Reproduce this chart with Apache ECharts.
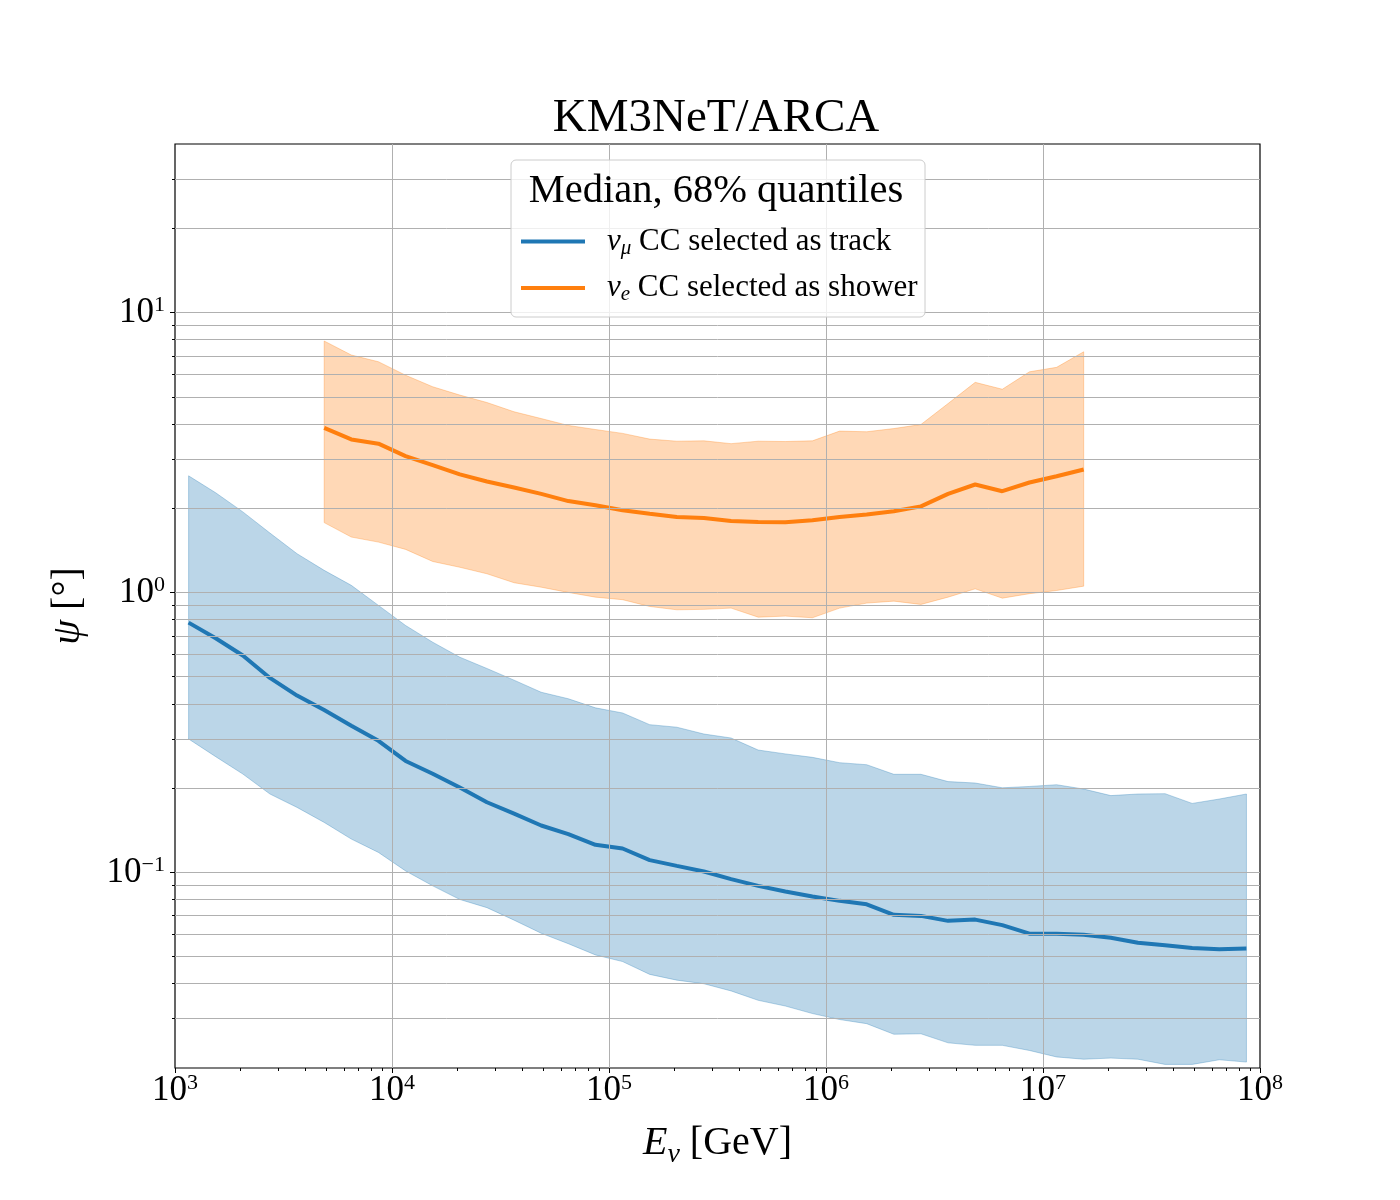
<!DOCTYPE html>
<html>
<head>
<meta charset="UTF-8">
<title>KM3NeT/ARCA</title>
<script type="text/javascript" src="https://cdn.jsdelivr.net/npm/echarts@6.0.0/dist/echarts.min.js"></script>
<style type="text/css">
	body { margin: 0; background: #fff; }
	#main { width: 1400px; height: 1200px; }
</style>
</head>
<body>
<div id="main"></div>
<script type="text/javascript">
	// bin centres, GeV
	var energy = [
		1155, 1540, 2054, 2738, 3652, 4870, 6494, 8660,
		11550, 15400, 20540, 27380, 36520, 48700, 64940, 86600,
		1.155e5, 1.54e5, 2.054e5, 2.738e5, 3.652e5, 4.87e5, 6.494e5, 8.66e5,
		1.155e6, 1.54e6, 2.054e6, 2.738e6, 3.652e6, 4.87e6, 6.494e6, 8.66e6,
		1.155e7, 1.54e7, 2.054e7, 2.738e7, 3.652e7, 4.87e7, 6.494e7, 8.66e7
	];

	// nu_mu CC selected as track (all 40 bins)
	var trackMedian = [0.78, 0.686, 0.595, 0.495, 0.428, 0.38, 0.334, 0.295, 0.25, 0.225,
		0.201, 0.178, 0.162, 0.147, 0.137, 0.1254, 0.1217, 0.1106, 0.1055, 0.1007,
		0.0946, 0.0895, 0.0854, 0.082, 0.0791, 0.0769, 0.0705, 0.0699, 0.0671, 0.0678,
		0.0648, 0.0604, 0.0604, 0.0598, 0.0584, 0.056, 0.0549, 0.0537, 0.0531, 0.0534];
	var trackUpper = [2.61, 2.27, 1.94, 1.63, 1.375, 1.199, 1.06, 0.899, 0.762, 0.664,
		0.587, 0.535, 0.486, 0.44, 0.417, 0.387, 0.371, 0.337, 0.33, 0.312,
		0.302, 0.2735, 0.265, 0.2575, 0.2465, 0.2424, 0.224, 0.224, 0.211, 0.2085,
		0.2005, 0.2027, 0.2056, 0.1984, 0.188, 0.1905, 0.191, 0.1763, 0.1828, 0.1905];
	var trackLower = [0.2996, 0.259, 0.2245, 0.1905, 0.1706, 0.1508, 0.1315, 0.1178, 0.1012, 0.0895,
		0.08, 0.0748, 0.0675, 0.0606, 0.0556, 0.0507, 0.048, 0.0432, 0.0412, 0.04,
		0.0377, 0.0349, 0.0333, 0.0313, 0.0298, 0.0288, 0.0264, 0.0265, 0.0246, 0.0241,
		0.0241, 0.0231, 0.0219, 0.0215, 0.0217, 0.0215, 0.0206, 0.0206, 0.0214, 0.021];

	// nu_e CC selected as shower (bins 5..33)
	var showerEnergy = energy.slice(5, 34);
	var showerMedian = [3.87, 3.52, 3.40, 3.07, 2.85, 2.64, 2.49, 2.37, 2.25, 2.12,
		2.05, 1.966, 1.912, 1.86, 1.845, 1.8, 1.785, 1.78, 1.81, 1.86,
		1.897, 1.95, 2.03, 2.25, 2.43, 2.30, 2.47, 2.60, 2.75];
	var showerUpper = [7.91, 7.05, 6.67, 5.97, 5.43, 5.07, 4.77, 4.42, 4.18, 3.95,
		3.82, 3.70, 3.53, 3.47, 3.48, 3.40, 3.47, 3.46, 3.48, 3.77,
		3.75, 3.85, 3.98, 4.73, 5.63, 5.32, 6.14, 6.37, 7.24];
	var showerLower = [1.776, 1.577, 1.513, 1.425, 1.29, 1.23, 1.166, 1.083, 1.044, 1.0,
		0.962, 0.942, 0.891, 0.867, 0.87, 0.879, 0.816, 0.823, 0.812, 0.879,
		0.916, 0.931, 0.906, 0.962, 1.03, 0.954, 0.99, 1.016, 1.053];

	// ticks
	var xMajor = [1e3, 1e4, 1e5, 1e6, 1e7, 1e8];
	var yMajor = [0.1, 1, 10];
	var xMin = 1e3, xMax = 1e8, yMin = 0.02, yMax = 40;

	var FONT = 'Liberation Serif';
	var BLUE = '#1f77b4', ORANGE = '#ff7f0e';

	// minor ticks 2..9 of every decade inside the range
	function minorTicks(lo, hi) {
		var out = [];
		for (var d = Math.floor(Math.log10(lo)); d < Math.ceil(Math.log10(hi)); d++) {
			for (var m = 2; m <= 9; m++) {
				var v = +(m * Math.pow(10, d)).toPrecision(3);
				if (v > lo && v < hi) out.push(v);
			}
		}
		return out;
	}
	var xMinor = minorTicks(xMin, xMax);
	var yMinor = minorTicks(yMin, yMax);

	function zip(xs, a, b) {
		var out = [];
		for (var i = 0; i < xs.length; i++) out.push(b ? [xs[i], a[i], b[i]] : [xs[i], a[i]]);
		return out;
	}

	function powLabel(v) {
		var e = Math.round(Math.log10(v));
		return '{b|10}{e|' + (e < 0 ? '\u2212' + (-e) : e) + '}';
	}
	var powRich = {
		b: { fontFamily: FONT, fontSize: 35, lineHeight: 36, verticalAlign: 'bottom', color: '#000' },
		e: { fontFamily: FONT, fontSize: 22, lineHeight: 22, verticalAlign: 'top', color: '#000' }
	};

	function band(color) {
		return function (params, api) {
			if (params.dataIndexInside !== 0) return;
			var up = [], low = [];
			for (var i = 0; i < params.dataInsideLength; i++) {
				up.push(api.coord([api.value(0, i), api.value(2, i)]));
				low.unshift(api.coord([api.value(0, i), api.value(1, i)]));
			}
			return {
				type: 'polygon',
				shape: { points: up.concat(low) },
				style: { fill: color, stroke: color, lineWidth: 1 }
			};
		};
	}

	var gridLines = [];
	yMajor.concat(yMinor).forEach(function (v) { gridLines.push({ yAxis: v }); });
	xMajor.slice(1, -1).forEach(function (v) { gridLines.push({ xAxis: v }); });

	var legendText = {
		numu: '{g| }{i|\u03bd}{s|\u03bc}{t| CC selected as track}',
		nue: '{g| }{i|\u03bd}{s|e}{t| CC selected as shower}'
	};

	var myChart = echarts.init(document.getElementById('main'));

	var option = {
		backgroundColor: '#fff',
		animation: false,
		title: [{
			text: 'KM3NeT/ARCA',
			left: 716, top: 95, textAlign: 'center', padding: 0,
			textStyle: { fontFamily: FONT, fontSize: 47, fontWeight: 'normal', color: '#000' }
		}, {
			text: 'Median, 68% quantiles',
			left: 716, top: 171, textAlign: 'center', padding: 0, z: 20,
			textStyle: { fontFamily: FONT, fontSize: 40.5, fontWeight: 'normal', color: '#000' }
		}],
		graphic: [{
			type: 'rect', z: 10,
			shape: { x: 511, y: 160, width: 414, height: 157, r: 5 },
			style: { fill: 'rgba(255,255,255,0.8)', stroke: '#cccccc', lineWidth: 1 }
		}],
		legend: {
			data: ['numu', 'nue'],
			orient: 'vertical',
			left: 521, top: 226, padding: 0, z: 20,
			icon: 'rect',
			itemWidth: 64, itemHeight: 4, itemGap: 14,
			formatter: function (name) { return legendText[name]; },
			textStyle: {
				fontFamily: FONT, fontSize: 31, color: '#000',
				rich: {
					g: { width: 17, lineHeight: 34 },
					i: { fontFamily: FONT, fontSize: 31, fontStyle: 'italic', lineHeight: 34 },
					s: { fontFamily: FONT, fontSize: 21, fontStyle: 'italic', lineHeight: 21, verticalAlign: 'bottom' },
					t: { fontFamily: FONT, fontSize: 31, lineHeight: 34 }
				}
			}
		},
		grid: {
			left: 175, right: 140, top: 144, bottom: 132,
			show: true, borderColor: '#000', borderWidth: 1.2, backgroundColor: 'transparent'
		},
		xAxis: [{
			type: 'log', logBase: 10, min: xMin, max: xMax, position: 'bottom',
			name: '{e|E}{s|\u03bd}{t| [GeV]}', nameLocation: 'middle', nameGap: 55,
			nameTextStyle: {
				fontFamily: FONT, fontSize: 40, color: '#000',
				rich: {
					e: { fontFamily: FONT, fontSize: 40, fontStyle: 'italic', lineHeight: 46, verticalAlign: 'top' },
					s: { fontFamily: FONT, fontSize: 28, fontStyle: 'italic', lineHeight: 28, verticalAlign: 'bottom' },
					t: { fontFamily: FONT, fontSize: 40, lineHeight: 46, verticalAlign: 'top' }
				}
			},
			axisLine: { show: false, onZero: false },
			axisTick: { show: true, length: 5, lineStyle: { color: '#000', width: 1 }, customValues: xMajor },
			axisLabel: { margin: 4, formatter: powLabel, rich: powRich, customValues: xMajor },
			splitLine: { show: false }
		}, {
			type: 'log', logBase: 10, min: xMin, max: xMax, position: 'bottom',
			axisLine: { show: false, onZero: false },
			axisTick: { show: true, length: 3, lineStyle: { color: '#000', width: 1 }, customValues: xMinor },
			axisLabel: { show: false },
			splitLine: { show: false }
		}],
		yAxis: [{
			type: 'log', logBase: 10, min: yMin, max: yMax, position: 'left',
			name: '{p|\u03c8}{t| [\u00b0]}', nameLocation: 'middle', nameGap: 87,
			nameTextStyle: {
				fontFamily: FONT, fontSize: 40, color: '#000',
				rich: {
					p: { fontFamily: FONT, fontSize: 40, fontStyle: 'italic' },
					t: { fontFamily: FONT, fontSize: 40 }
				}
			},
			axisLine: { show: false, onZero: false },
			axisTick: { show: true, length: 5, lineStyle: { color: '#000', width: 1 }, customValues: yMajor },
			axisLabel: { margin: 10, formatter: powLabel, rich: powRich, customValues: yMajor },
			splitLine: { show: false }
		}, {
			type: 'log', logBase: 10, min: yMin, max: yMax, position: 'left',
			axisLine: { show: false, onZero: false },
			axisTick: { show: true, length: 3, lineStyle: { color: '#000', width: 1 }, customValues: yMinor },
			axisLabel: { show: false },
			splitLine: { show: false }
		}],
		series: [{
			name: 'trackBand', type: 'custom', z: 1, silent: true,
			renderItem: band('rgba(31,119,180,0.3)'),
			encode: { x: 0, y: [1, 2] },
			data: zip(energy, trackLower, trackUpper)
		}, {
			name: 'showerBand', type: 'custom', z: 1, silent: true,
			renderItem: band('rgba(255,127,14,0.3)'),
			encode: { x: 0, y: [1, 2] },
			data: zip(showerEnergy, showerLower, showerUpper)
		}, {
			name: 'grid', type: 'line', z: 2, silent: true, data: [],
			markLine: {
				silent: true, animation: false, symbol: ['none', 'none'],
				label: { show: false },
				lineStyle: { color: '#b0b0b0', width: 1, type: 'solid' },
				emphasis: { disabled: true },
				data: gridLines
			}
		}, {
			name: 'numu', type: 'line', z: 3, symbol: 'none', silent: true,
			color: BLUE, lineStyle: { color: BLUE, width: 4 },
			data: zip(energy, trackMedian)
		}, {
			name: 'nue', type: 'line', z: 3, symbol: 'none', silent: true,
			color: ORANGE, lineStyle: { color: ORANGE, width: 4 },
			data: zip(showerEnergy, showerMedian)
		}]
	};

	myChart.setOption(option);
</script>
</body>
</html>
